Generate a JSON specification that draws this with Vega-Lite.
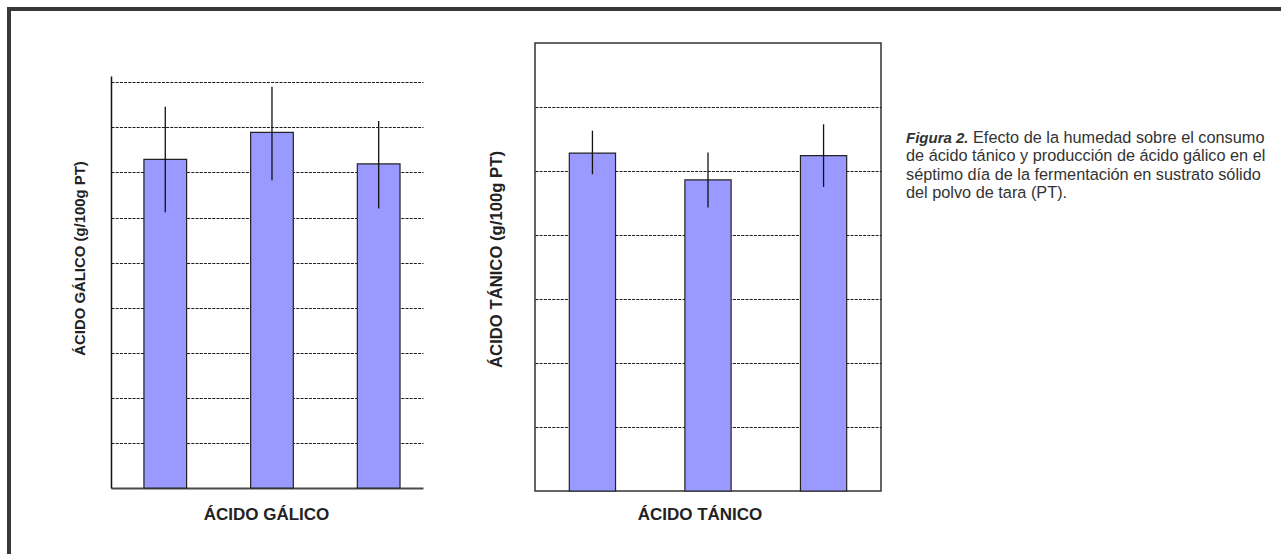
{
  "$schema": "https://vega.github.io/schema/vega-lite/v6.json",
  "background": "white",
  "padding": {"left": 7, "top": 7, "right": 0, "bottom": 0},
  "config": {
    "view": {"stroke": null},
    "font": "Liberation Sans",
    "axis": {
      "labels": false,
      "ticks": false,
      "titleFont": "Liberation Sans",
      "titleFontWeight": "bold",
      "titleColor": "#222222"
    }
  },
  "spacing": 0,
  "bounds": "flush",
  "hconcat": [
    {
      "width": 4,
      "height": 547,
      "data": {"values": [{"marco": "izquierdo"}]},
      "mark": {"type": "rect", "color": "#383838"},
      "encoding": {}
    },
    {
      "spacing": 32,
      "bounds": "flush",
      "vconcat": [
        {
          "width": 1270,
          "height": 4,
          "data": {"values": [{"marco": "superior"}]},
          "mark": {"type": "rect", "color": "#383838"},
          "encoding": {}
        },
        {
          "spacing": 0,
          "bounds": "flush",
          "hconcat": [
            {"width": 100, "height": 1, "data": {"values": []}, "mark": "point", "encoding": {}},
            {
              "width": 312,
              "height": 445,
              "data": {
                "values": [
                  {"humedad": "H1", "media": 7.29, "inferior": 6.12, "superior": 8.46},
                  {"humedad": "H2", "media": 7.89, "inferior": 6.83, "superior": 8.90},
                  {"humedad": "H3", "media": 7.19, "inferior": 6.20, "superior": 8.14}
                ]
              },
              "encoding": {
                "x": {
                  "field": "humedad",
                  "type": "nominal",
                  "sort": null,
                  "scale": {"paddingInner": 0.6, "paddingOuter": 0.262, "align": 0.589},
                  "axis": {
                    "title": "ÁCIDO GÁLICO",
                    "grid": false,
                    "domainColor": "#4a4a4a",
                    "domainWidth": 2,
                    "titleFontSize": 17,
                    "titleAngle": 0,
                    "titleAlign": "center",
                    "titleBaseline": "alphabetic",
                    "titleX": 155,
                    "titleY": 31.3
                  }
                }
              },
              "layer": [
                {
                  "mark": {"type": "bar", "fill": "#9999ff", "stroke": "#222222", "strokeWidth": 1.2},
                  "encoding": {
                    "y": {
                      "field": "media",
                      "type": "quantitative",
                      "scale": {"domain": [0, 9.14], "range": [445, 33], "nice": false},
                      "axis": {
                        "title": "ÁCIDO GÁLICO (g/100g PT)",
                        "values": [1, 2, 3, 4, 5, 6, 7, 8, 9],
                        "grid": true,
                        "gridColor": "#1a1a1a",
                        "gridDash": [3, 1.2],
                        "gridWidth": 1,
                        "domainColor": "#111111",
                        "domainWidth": 1.5,
                        "titleFontSize": 14.9,
                        "titleAngle": 270,
                        "titleAlign": "center",
                        "titleBaseline": "alphabetic",
                        "titleX": -26.5,
                        "titleY": 215
                      }
                    }
                  }
                },
                {
                  "mark": {"type": "rule", "color": "#111111", "strokeWidth": 1.3},
                  "encoding": {
                    "y": {"field": "inferior", "type": "quantitative", "title": "ÁCIDO GÁLICO (g/100g PT)"},
                    "y2": {"field": "superior"}
                  }
                }
              ]
            },
            {"width": 112, "height": 1, "data": {"values": []}, "mark": "point", "encoding": {}},
            {
              "width": 346,
              "height": 448,
              "view": {"stroke": "#333333", "strokeWidth": 1.5},
              "data": {
                "values": [
                  {"humedad": "H1", "media": 52.8, "inferior": 49.5, "superior": 56.3},
                  {"humedad": "H2", "media": 48.6, "inferior": 44.3, "superior": 52.9},
                  {"humedad": "H3", "media": 52.4, "inferior": 47.5, "superior": 57.3}
                ]
              },
              "encoding": {
                "x": {
                  "field": "humedad",
                  "type": "nominal",
                  "sort": null,
                  "scale": {"paddingInner": 0.6, "paddingOuter": 0.297, "align": 0.5},
                  "axis": {
                    "title": "ÁCIDO TÁNICO",
                    "grid": false,
                    "domain": false,
                    "titleFontSize": 17,
                    "titleAngle": 0,
                    "titleAlign": "center",
                    "titleBaseline": "alphabetic",
                    "titleX": 164.5,
                    "titleY": 28.3
                  }
                }
              },
              "layer": [
                {
                  "mark": {"type": "bar", "fill": "#9999ff", "stroke": "#222222", "strokeWidth": 1.2},
                  "encoding": {
                    "y": {
                      "field": "media",
                      "type": "quantitative",
                      "scale": {"domain": [0, 70], "nice": false},
                      "axis": {
                        "title": "ÁCIDO TÁNICO (g/100g PT)",
                        "values": [10, 20, 30, 40, 50, 60],
                        "grid": true,
                        "gridColor": "#1a1a1a",
                        "gridDash": [3, 1.2],
                        "gridWidth": 1,
                        "domain": false,
                        "titleFontSize": 16.7,
                        "titleAngle": 270,
                        "titleAlign": "center",
                        "titleBaseline": "alphabetic",
                        "titleX": -34,
                        "titleY": 216
                      }
                    }
                  }
                },
                {
                  "mark": {"type": "rule", "color": "#111111", "strokeWidth": 1.3},
                  "encoding": {
                    "y": {"field": "inferior", "type": "quantitative", "title": "ÁCIDO TÁNICO (g/100g PT)"},
                    "y2": {"field": "superior"}
                  }
                }
              ]
            },
            {"width": 25, "height": 1, "data": {"values": []}, "mark": "point", "encoding": {}},
            {
              "width": 370,
              "height": 200,
              "encoding": {
                "y": {
                  "field": "linea",
                  "type": "quantitative",
                  "scale": {"domain": [1, 4], "range": [100, 155]},
                  "axis": null
                },
                "x": {"value": 0},
                "text": {"field": "texto"}
              },
              "layer": [
                {
                  "data": {"values": [{"linea": 1, "texto": "Figura 2."}]},
                  "mark": {"type": "text", "align": "left", "baseline": "alphabetic", "fontSize": 15, "fontWeight": "bold", "fontStyle": "italic", "color": "#333333"}
                },
                {
                  "data": {"values": [{"linea": 1, "texto": "Efecto de la humedad sobre el consumo"}]},
                  "mark": {"type": "text", "align": "left", "baseline": "alphabetic", "fontSize": 16.3, "dx": 67, "color": "#333333"}
                },
                {
                  "data": {
                    "values": [
                      {"linea": 2, "texto": "de ácido tánico y producción de ácido gálico en el"},
                      {"linea": 3, "texto": "séptimo día de la fermentación en sustrato sólido"},
                      {"linea": 4, "texto": "del polvo de tara (PT)."}
                    ]
                  },
                  "mark": {"type": "text", "align": "left", "baseline": "alphabetic", "fontSize": 16.3, "color": "#333333"}
                }
              ]
            }
          ]
        }
      ]
    }
  ]
}
